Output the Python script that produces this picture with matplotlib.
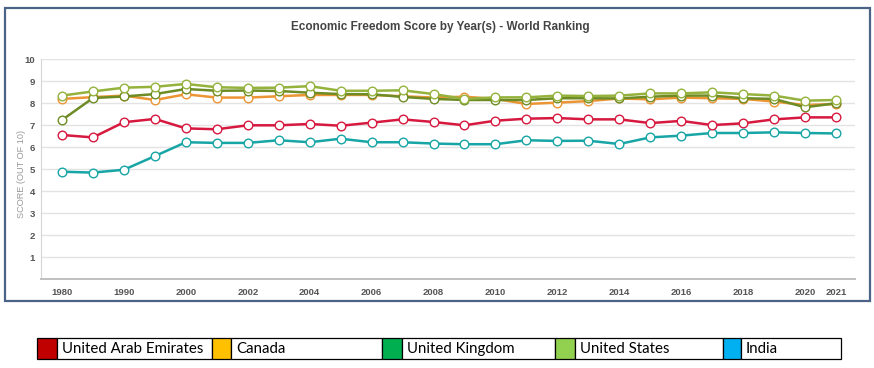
import matplotlib
matplotlib.use("Agg")
import matplotlib.pyplot as plt
from matplotlib.patches import Rectangle

years = ["1980", "1985", "1990", "1995", "2000"] + [str(y) for y in range(2001, 2022)]
tick_labels_shown = ["1980", "1990", "2000", "2002", "2004", "2006", "2008", "2010",
                     "2012", "2014", "2016", "2018", "2020", "2021"]

uae = [6.56, 6.45, 7.14, 7.29, 6.86, 6.82, 7.00, 7.00, 7.06, 6.98, 7.12, 7.27, 7.15,
       7.00, 7.21, 7.30, 7.33, 7.27, 7.27, 7.10, 7.20, 7.01, 7.09, 7.27, 7.36, 7.36]
india = [4.89, 4.85, 4.98, 5.60, 6.23, 6.20, 6.20, 6.32, 6.23, 6.39, 6.23, 6.23, 6.17,
         6.14, 6.14, 6.32, 6.29, 6.30, 6.15, 6.45, 6.53, 6.65, 6.65, 6.68, 6.65, 6.63]
canada = [8.20, 8.28, 8.35, 8.15, 8.41, 8.26, 8.26, 8.32, 8.38, 8.38, 8.38, 8.32, 8.26,
          8.30, 8.20, 7.97, 8.03, 8.10, 8.22, 8.18, 8.26, 8.23, 8.20, 8.08, 7.92, 7.97]
uk = [7.24, 8.24, 8.31, 8.42, 8.65, 8.57, 8.58, 8.56, 8.48, 8.42, 8.41, 8.29, 8.20,
      8.15, 8.15, 8.15, 8.23, 8.23, 8.22, 8.30, 8.35, 8.35, 8.23, 8.20, 7.82, 8.00]
usa = [8.35, 8.54, 8.71, 8.75, 8.88, 8.73, 8.70, 8.71, 8.78, 8.57, 8.57, 8.59, 8.42,
       8.20, 8.27, 8.27, 8.35, 8.33, 8.35, 8.45, 8.45, 8.50, 8.42, 8.35, 8.12, 8.15]

legend_names = ["United Arab Emirates", "Canada", "United Kingdom", "United States", "India"]
legend_colors = ["#C00000", "#FFC000", "#00B050", "#92D050", "#00B0F0"]

series = [
    (india, "#17A5A6"),
    (uae, "#D7193F"),
    (canada, "#EC9535"),
    (uk, "#6E8C25"),
    (usa, "#94B23C"),
]

W, H = 874, 368
fig = plt.figure(figsize=(W / 100, H / 100), dpi=100)
fig.patch.set_facecolor("white")

# outer chart frame
fig.patches.append(Rectangle((5 / W, 1 - 301 / H), (870 - 5) / W, (301 - 7.5) / H,
                             transform=fig.transFigure, fill=False,
                             edgecolor="#4B6386", lw=1.6, zorder=0))

ax = fig.add_axes([40.7 / W, 1 - 279.3 / H, (855 - 40.7) / W, (279.3 - 59.3) / H])
x = list(range(len(years)))
for vals, col in series:
    ax.plot(x, vals, color=col, lw=1.8, marker="o", markersize=6.2,
            markerfacecolor="white", markeredgecolor=col, markeredgewidth=1.0, zorder=3)

ax.set_xlim(-0.688, 25.614)
ax.set_ylim(0, 10)
ax.set_yticks(range(1, 11))
ax.set_yticklabels([str(i) for i in range(1, 11)])
tick_idx = [years.index(t) for t in tick_labels_shown]
ax.set_xticks(tick_idx)
ax.set_xticklabels(tick_labels_shown)
ax.tick_params(axis="both", length=0, labelsize=6.8, labelcolor="#555555")
ax.tick_params(axis="x", pad=6)
ax.tick_params(axis="y", pad=4)
for lab in ax.get_xticklabels() + ax.get_yticklabels():
    lab.set_fontweight("bold")
    lab.set_family("Liberation Sans")
ax.yaxis.grid(True, color="#E3E3E3", lw=1)
ax.set_axisbelow(True)
for s in ["top", "right"]:
    ax.spines[s].set_visible(False)
ax.spines["left"].set_color("#D5D5D5")
ax.spines["bottom"].set_color("#C0C0C0")
ax.spines["bottom"].set_linewidth(1.4)
ax.set_ylabel("SCORE (OUT OF 10)", fontsize=6.6, color="#9A9A9A",
              family="Liberation Sans")
ax.yaxis.set_label_coords((26 - 40.7) / (855 - 40.7), 0.48)

fig.text(440 / W, 1 - 27 / H, "Economic Freedom Score by Year(s) - World Ranking",
         ha="center", va="center", fontsize=8.5, fontweight="bold",
         color="#444444", family="Liberation Sans")

# legend table below the chart
cells = [(37.3, 56.7, 211.7), (211.7, 231.3, 382.0), (382.0, 402.3, 554.7),
         (554.7, 574.7, 722.7), (722.7, 740.7, 840.7)]
top, bot = 338.3, 359.3
for (x0, x1, x2), name, col in zip(cells, legend_names, legend_colors):
    fig.patches.append(Rectangle((x0 / W, 1 - bot / H), (x1 - x0) / W, (bot - top) / H,
                                 transform=fig.transFigure, facecolor=col,
                                 edgecolor="black", lw=0.9))
    fig.patches.append(Rectangle((x1 / W, 1 - bot / H), (x2 - x1) / W, (bot - top) / H,
                                 transform=fig.transFigure, facecolor="white",
                                 edgecolor="black", lw=0.9))
    fig.text((x1 + 5) / W, 1 - (top + bot) / 2 / H, name, ha="left", va="center",
             fontsize=10.8, color="black", family="Lato")

fig.savefig("out.png", dpi=100)
